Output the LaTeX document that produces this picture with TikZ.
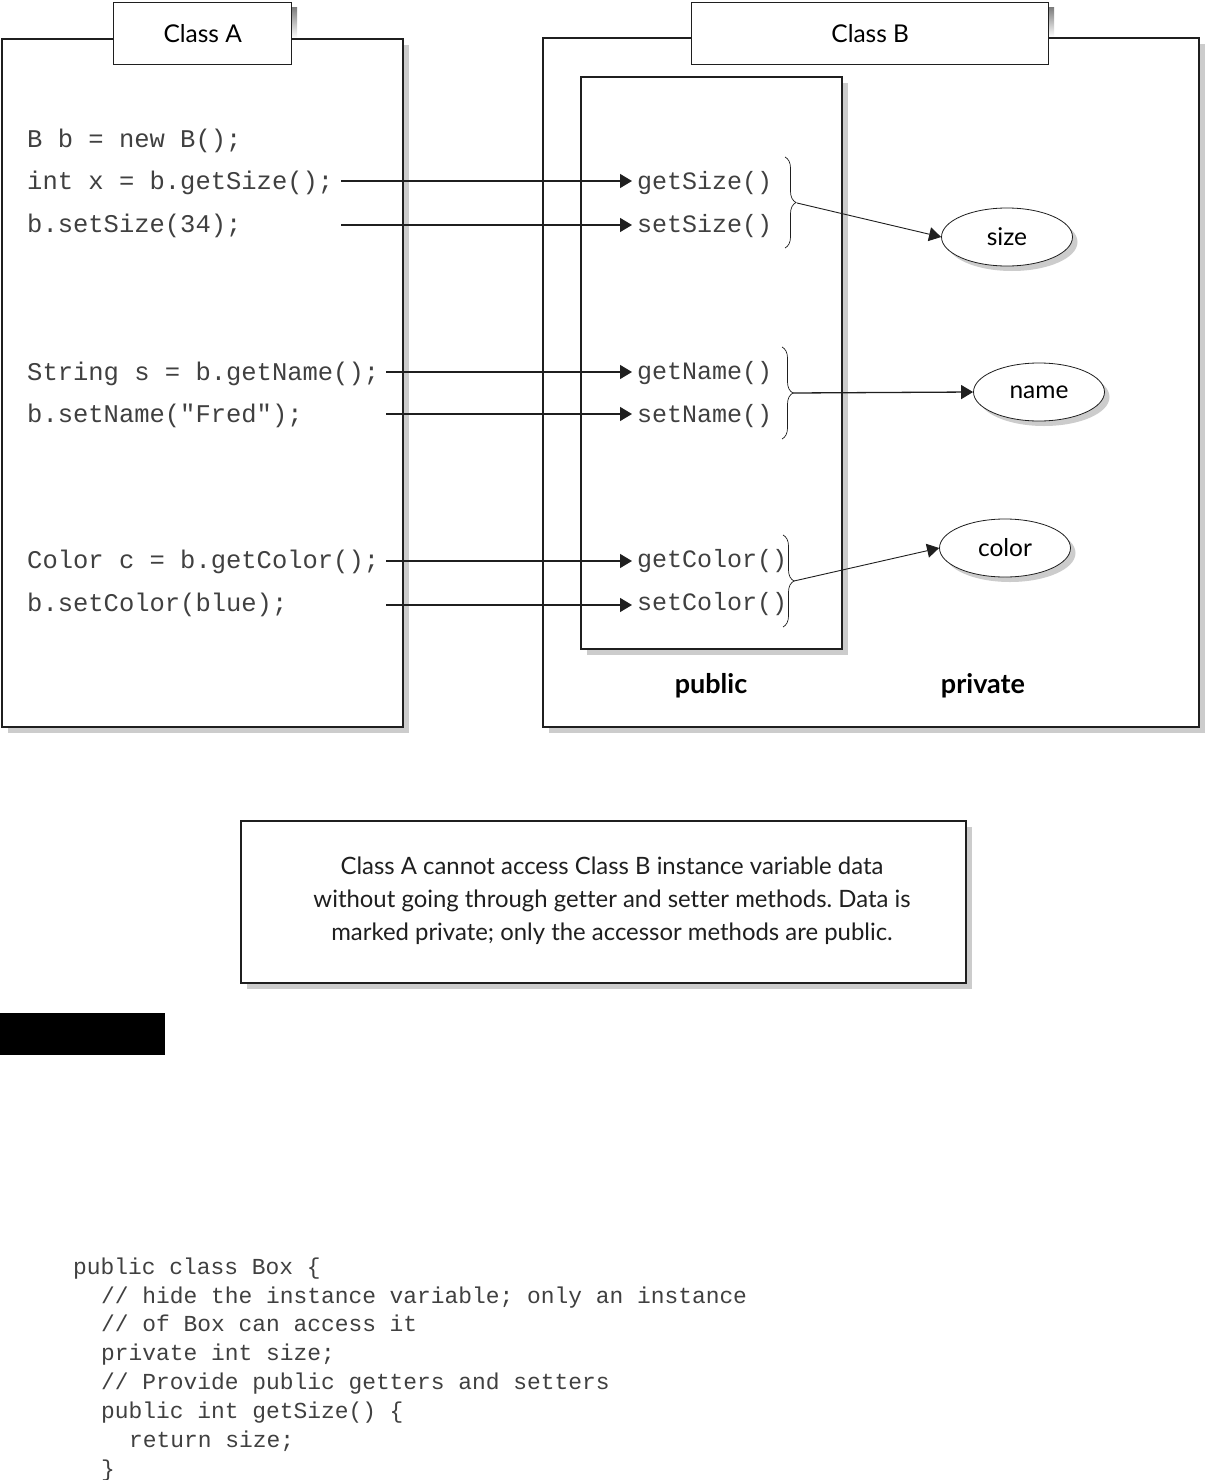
\documentclass[tikz,border=0pt]{standalone}
\usepackage{fontspec}
\setmainfont{Lato}[Ligatures={NoCommon}]
\newfontfamily\codefont{Liberation Mono}
\frenchspacing
\usetikzlibrary{arrows.meta,shapes.geometric,shadows,decorations.pathreplacing}
\definecolor{shade}{gray}{0.80}
\definecolor{ink}{gray}{0.12}
\definecolor{codeink}{gray}{0.25}
\tikzset{
  shbox/.style={draw=ink, line width=1.6pt, fill=white, inner sep=0pt, anchor=north west,
    drop shadow={shadow xshift=6pt, shadow yshift=-6pt, fill=shade, opacity=1}},
  tabbox/.style={draw=ink, line width=1.4pt, fill=white, inner sep=0pt, anchor=north west, font=\fontsize{24.5}{28}\selectfont},
  code/.style={anchor=base west, inner sep=0pt, font=\codefont\fontsize{25.5}{30}\selectfont, text=codeink},
  bcode/.style={anchor=base west, inner sep=0pt, font=\codefont\fontsize{22.9}{28}\selectfont, text=codeink},
  meth/.style={anchor=base west, inner sep=0pt, font=\codefont\fontsize{25}{30}\selectfont, text=codeink},
  var/.style={ellipse, draw=ink, line width=0.8pt, fill=white, inner sep=0pt, minimum width=131pt, minimum height=58pt,
    font=\fontsize{24.5}{28}\selectfont,
    drop shadow={shadow xshift=5pt, shadow yshift=-5pt, fill=shade, opacity=1}},
  arr/.style={draw=ink, line width=1.3pt, -{Triangle[length=12pt,width=14pt]}},
  thinarr/.style={draw=ink, line width=0.9pt, -{Triangle[length=12pt,width=14pt]}},
  brc/.style={draw=ink, line width=0.7pt, decorate, decoration={brace, amplitude=11pt}},
  lbl/.style={inner sep=0pt, font=\bfseries\fontsize{27}{30}\selectfont},
}
\begin{document}
\begin{tikzpicture}[x=1pt, y=-1pt]
\useasboundingbox (0,0) rectangle (1205,1480);
\fill[white] (0,0) rectangle (1205,1480);

% Class A
\node[shbox, minimum width=401pt, minimum height=688pt] (classA) at (1,38) {};
\fill[shade] (291,8) rectangle (297,38);
\node[tabbox, minimum width=178pt, minimum height=62pt] (tabA) at (113,2) {Class A};

% Class B
\node[shbox, minimum width=656pt, minimum height=689pt] (classB) at (542,37) {};
\fill[shade] (1048,8) rectangle (1054,37);
\node[tabbox, minimum width=357pt, minimum height=62pt] (tabB) at (691,2) {Class B};

% public box
\node[shbox, minimum width=261pt, minimum height=572pt] (pub) at (580,76) {};
\node[lbl] (publbl) at (711,686) {public};
\node[lbl] (privlbl) at (983,686) {private};

% code in class A
\node[code] (c0) at (27,147) {B b = new B();};
\node[code] (c1) at (27,189) {int x = b.getSize();};
\node[code] (c2) at (27,232) {b.setSize(34);};
\node[code] (c3) at (27,380) {String s = b.getName();};
\node[code] (c4) at (27,422) {b.setName("Fred");};
\node[code] (c5) at (27,568) {Color c = b.getColor();};
\node[code] (c6) at (27,611) {b.setColor(blue);};

% methods
\node[meth] (m1) at (637,189) {getSize()};
\node[meth] (m2) at (637,232) {setSize()};
\node[meth] (m3) at (637,379) {getName()};
\node[meth] (m4) at (637,422) {setName()};
\node[meth] (m5) at (637,567) {getColor()};
\node[meth] (m6) at (637,610) {setColor()};

% start points of calls
\coordinate (s1) at (341,181);
\coordinate (s2) at (341,225);
\coordinate (s3) at (386,372);
\coordinate (s4) at (386,414);
\coordinate (s5) at (386,561);
\coordinate (s6) at (386,605);
\draw[arr] (s1) -- ([xshift=-5pt]s1 -| m1.west);
\draw[arr] (s2) -- ([xshift=-5pt]s2 -| m2.west);
\draw[arr] (s3) -- ([xshift=-5pt]s3 -| m3.west);
\draw[arr] (s4) -- ([xshift=-5pt]s4 -| m4.west);
\draw[arr] (s5) -- ([xshift=-5pt]s5 -| m5.west);
\draw[arr] (s6) -- ([xshift=-5pt]s6 -| m6.west);

% braces
\draw[brc] (785,157) -- (785,248);
\draw[brc] (782,347) -- (782,439);
\draw[brc] (783,535) -- (783,627);
\coordinate (t1) at (797,203);
\coordinate (t2) at (793,393);
\coordinate (t3) at (794,581);

% private variables
\node[var] (size) at (1007,237) {size};
\node[var] (name) at (1039,392) {name};
\node[var] (color) at (1005,548) {color};

\draw[thinarr] (t1) -- (size.west);
\draw[arr] (t2) -- (name.west);
\draw[thinarr] (t3) -- (color.west);

% caption
\node[shbox, minimum width=725pt, minimum height=162pt] (capbox) at (240,820) {};
\node[align=center, inner sep=0pt, font=\fontsize{23.9}{33}\selectfont, text=ink] (cap) at (612,901)
  {Class A cannot access Class B instance variable data\\
   without going through getter and setter methods. Data is\\
   marked private; only the accessor methods are public.};

% black bar
\node[fill=black, inner sep=0pt, anchor=north west, minimum width=165pt, minimum height=42pt] (bar) at (0,1013) {};

% bottom code
\node[bcode] (l1) at (73,1274) {public class Box \{};
\node[bcode] (l2) at (101,1303) {// hide the instance variable; only an instance};
\node[bcode] (l3) at (101,1331) {// of Box can access it};
\node[bcode] (l4) at (101,1360) {private int size;};
\node[bcode] (l5) at (101,1389) {// Provide public getters and setters};
\node[bcode] (l6) at (101,1418) {public int getSize() \{};
\node[bcode] (l7) at (129,1447) {return size;};
\node[bcode] (l8) at (101,1476) {\}};
\end{tikzpicture}
\end{document}
